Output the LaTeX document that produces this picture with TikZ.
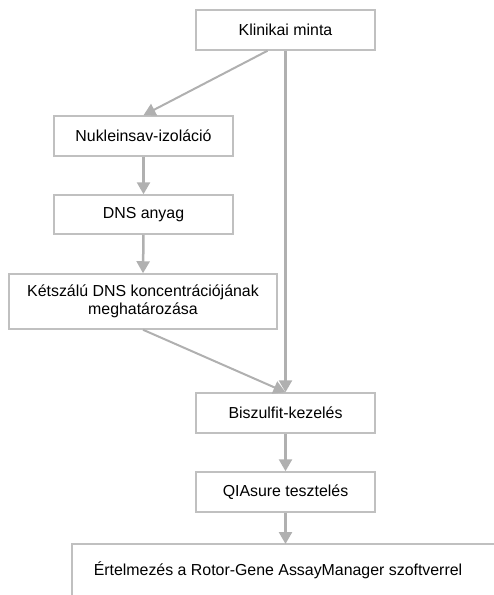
\documentclass[tikz,border=0pt]{standalone}
\usepackage{fontspec}
\setmainfont{Liberation Sans}
\usetikzlibrary{arrows.meta}
\definecolor{boxgray}{RGB}{192,192,192}
\definecolor{arrgray}{RGB}{176,176,176}
\begin{document}
\begin{tikzpicture}[x=1pt,y=-1pt,
  stepbox/.style={draw=boxgray, line width=1.5pt, fill=white, minimum height=40pt,
    inner sep=0pt, align=center, font=\fontsize{15.9}{18}\selectfont},
  flow/.style={draw=arrgray, line width=2.5pt, -{Triangle[width=13pt,length=12pt]}},
  thinflow/.style={draw=arrgray, line width=2pt, -{Triangle[width=13pt,length=12pt]}}]
\useasboundingbox (0,0) rectangle (494,595);
\node[stepbox, minimum width=179pt] (k) at (285.5,30) {Klinikai minta};
\node[stepbox, minimum width=179pt] (n) at (143.5,136) {Nukleinsav-izoláció};
\node[stepbox, minimum width=179pt, minimum height=39pt] (d) at (143.5,214.5) {DNS anyag};
\node[stepbox, minimum width=268pt, minimum height=55pt] (c) at (143,301.5) {Kétszálú DNS koncentrációjának\\meghatározása};
\node[stepbox, minimum width=179pt] (b) at (285.5,413) {Biszulfit-kezelés};
\node[stepbox, minimum width=179pt] (q) at (285.5,492) {QIAsure tesztelés};
\node[font=\fontsize{15.9}{18}\selectfont, inner sep=0pt] (e) at (278,570) {Értelmezés a Rotor-Gene AssayManager szoftverrel};
\draw[boxgray, line width=1.5pt] (72,620) |- (520,544);
\draw[thinflow] ([xshift=-18pt]k.south) -- (n.north);
\draw[flow] (k.south) -- (b.north);
\draw[flow] (n.south) -- (d.north);
\draw[flow] (d.south) -- (c.north);
\draw[thinflow] (c.south) -- (b.north);
\draw[flow] (b.south) -- (q.north);
\draw[flow] (q.south) -- (q.south |- 544,544);
\end{tikzpicture}
\end{document}
